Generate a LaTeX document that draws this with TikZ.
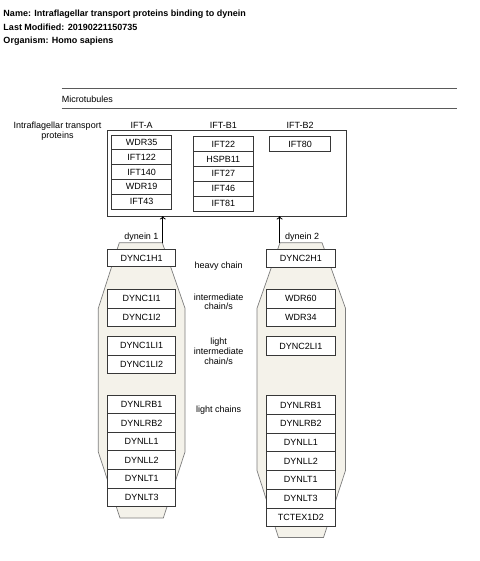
\documentclass[tikz,border=0pt]{standalone}
\usepackage{fontspec}
\setmainfont{Liberation Sans}
\usetikzlibrary{arrows.meta}
\definecolor{shapefill}{RGB}{244,242,234}
\definecolor{shapeline}{RGB}{125,125,125}
\definecolor{boxline}{RGB}{55,55,55}
\definecolor{mtgray}{RGB}{90,90,90}
\begin{document}
\begin{tikzpicture}[x=1bp,y=-1bp,
  font=\fontsize{9bp}{10bp}\selectfont,
  txt/.style={inner sep=0pt, anchor=base},
  iftbox/.style={draw=boxline, fill=white, line width=0.8bp, inner sep=0pt, minimum width=60bp, minimum height=14.8bp},
  dynbox/.style={draw=boxline, fill=white, line width=0.8bp, inner sep=0pt, minimum width=68bp, minimum height=18.6bp},
  dynshape/.style={draw=shapeline, fill=shapefill, line width=0.7bp},
  mtline/.style={draw=mtgray, line width=1.2bp},
  arr/.style={draw=black, line width=0.8bp, -{To[length=3.5bp,width=6bp]}}]
\useasboundingbox (0,0) rectangle (480,561);

% header
\node[txt, anchor=base west, font=\fontsize{9bp}{10bp}\selectfont\bfseries] (h1) at (3.3,16.7) {Name: Intraflagellar transport proteins binding to dynein};
\node[txt, anchor=base west, font=\fontsize{9bp}{10bp}\selectfont\bfseries] (h2) at (3.3,30.2) {Last Modified: 20190221150735};
\node[txt, anchor=base west, font=\fontsize{9bp}{10bp}\selectfont\bfseries] (h3) at (3.3,44) {Organism: Homo sapiens};

% microtubules
\coordinate (mt1a) at (61.7,88.3); \coordinate (mt1b) at (456.7,88.3);
\coordinate (mt2a) at (61.7,108.7); \coordinate (mt2b) at (456.7,108.7);
\draw[mtline] (mt1a) -- (mt1b);
\draw[mtline] (mt2a) -- (mt2b);
\node[txt, anchor=base west] (mt) at (61.7,102.3) {Microtubules};

% IFT labels
\node[txt] (iftl1) at (57.5,128.8) {Intraflagellar transport};
\node[txt] (iftl2) at (57.5,138.3) {proteins};
\node[txt] (la) at (141.7,128.3) {IFT-A};
\node[txt] (lb1) at (223.3,128.3) {IFT-B1};
\node[txt] (lb2) at (300,128.3) {IFT-B2};

% container
\draw[draw=boxline, line width=0.9bp] (107.3,130.7) rectangle (346.7,216);
\coordinate (ctop) at (107.3,216);

\foreach \t [count=\i from 0] in {WDR35,IFT122,IFT140,WDR19,IFT43}
  \node[iftbox] (a\i) at (141.7,142.4+14.8*\i) {\t};
\foreach \t [count=\i from 0] in {IFT22,HSPB11,IFT27,IFT46,IFT81}
  \node[iftbox] (b\i) at (223.3,144.1+14.86*\i) {\t};
\node[iftbox, minimum width=61.4bp, minimum height=15bp] (c0) at (300,144.2) {IFT80};

% dynein 1 shape
\draw[dynshape] (119.3,242.7) -- (162.3,242.7) -- (185,308.3) -- (185,452) -- (163.3,518) -- (120,518) -- (98.3,452) -- (98.3,308.3) -- cycle;
% dynein 2 shape
\draw[dynshape] (280,242.7) -- (322,242.7) -- (345.5,308.3) -- (345.5,470.5) -- (323.5,537.5) -- (278.5,537.5) -- (257,470.5) -- (257,308.3) -- cycle;

\coordinate (d1top) at (162.8,242.7);
\coordinate (d2top) at (279.6,242.7);
\draw[arr] (d1top) -- (d1top |- ctop);
\draw[arr] (d2top) -- (d2top |- ctop);
\node[txt] (dl1) at (141.5,239.6) {dynein 1};
\node[txt] (dl2) at (302.2,239.6) {dynein 2};

% dynein 1 boxes
\node[dynbox, minimum height=17.4bp] (p1) at (141.7,258) {DYNC1H1};
\node[dynbox, minimum height=19bp] (p2) at (141.7,298.8) {DYNC1I1};
\node[dynbox, minimum height=18.4bp] (p3) at (141.7,317.5) {DYNC1I2};
\node[dynbox, minimum height=18.3bp] (p4) at (141.7,345.85) {DYNC1LI1};
\node[dynbox, minimum height=18.3bp] (p5) at (141.7,364.15) {DYNC1LI2};
\foreach \t [count=\i from 0] in {DYNLRB1,DYNLRB2,DYNLL1,DYNLL2,DYNLT1,DYNLT3}
  \node[dynbox] (q\i) at (141.7,404.3+18.6*\i) {\t};

% dynein 2 boxes
\node[dynbox, minimum width=68.3bp, minimum height=17.6bp] (r1) at (300.8,258.1) {DYNC2H1};
\node[dynbox, minimum width=68.3bp, minimum height=19bp] (r2) at (300.8,298.8) {WDR60};
\node[dynbox, minimum width=68.3bp, minimum height=18.4bp] (r3) at (300.8,317.5) {WDR34};
\node[dynbox, minimum width=68.3bp, minimum height=18.8bp] (r4) at (300.8,346.1) {DYNC2LI1};
\foreach \t [count=\i from 0] in {DYNLRB1,DYNLRB2,DYNLL1,DYNLL2,DYNLT1,DYNLT3,TCTEX1D2}
  \node[dynbox, minimum width=68.3bp, minimum height=18.7bp] (s\i) at (300.8,405.05+18.7*\i) {\t};

% middle labels
\node[txt] (m1) at (218.7,268.3) {heavy chain};
\node[txt] (m2) at (218.7,300) {intermediate};
\node[txt] (m3) at (218.7,309.6) {chain/s};
\node[txt] (m4) at (218.7,344.2) {light};
\node[txt] (m5) at (218.7,354.3) {intermediate};
\node[txt] (m6) at (218.7,364.2) {chain/s};
\node[txt] (m7) at (218.7,412) {light chains};
\end{tikzpicture}
\end{document}
